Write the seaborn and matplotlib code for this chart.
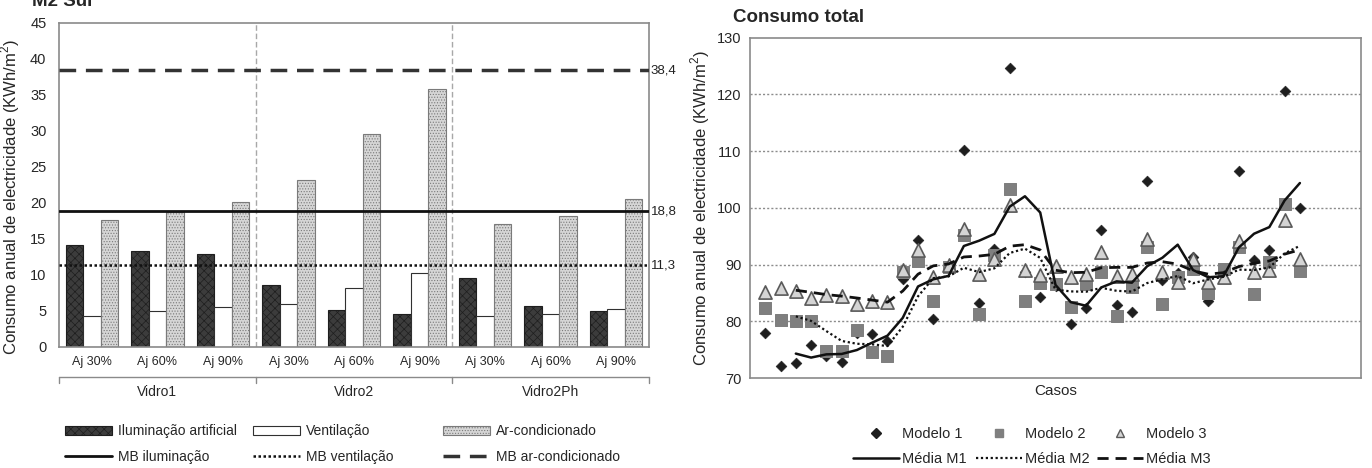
"""
Consumo anual de electricidade: barras por solução (M2 Sul) e dispersão do consumo total.
"""

import numpy as np
import pandas as pd
import seaborn as sns
from matplotlib import pyplot as plt
from matplotlib import font_manager
from matplotlib.lines import Line2D
from matplotlib.patches import Patch
from matplotlib.ticker import FixedLocator, NullFormatter
from matplotlib.transforms import blended_transform_factory

# ---- dados do gráfico de barras (M2 Sul) ----
GRUPOS = ["Vidro1", "Vidro2", "Vidro2Ph"]
AJUSTES = ["Aj 30%", "Aj 60%", "Aj 90%"]
TIPOS = ["Iluminação artificial", "Ventilação", "Ar-condicionado"]
ILUMINACAO = [14.1, 13.3, 12.9, 8.6, 5.1, 4.5, 9.5, 5.7, 4.9]
VENTILACAO = [4.3, 5.0, 5.5, 5.9, 8.1, 10.3, 4.3, 4.5, 5.3]
AR_CONDICIONADO = [17.6, 18.7, 20.1, 23.1, 29.5, 35.8, 17.0, 18.1, 20.5]
MB_NOMES = ["MB iluminação", "MB ventilação", "MB ar-condicionado"]
MB_VALORES = [18.8, 11.3, 38.4]
MB_ROTULOS = ["18,8", "11,3", "38,4"]

# ---- dados do gráfico de dispersão (consumo total) ----
MODELOS = ["Modelo 1", "Modelo 2", "Modelo 3"]
MEDIAS = ["Média M1", "Média M2", "Média M3"]
MODELO_1 = [78.0, 72.2, 72.7, 75.9, 73.9, 72.9, 78.0, 77.8, 76.6, 87.4,
            94.4, 80.4, 89.2, 110.2, 83.2, 92.8, 124.6, 88.7, 84.2, 86.3,
            79.6, 82.3, 96.0, 82.8, 81.6, 104.7, 87.3, 88.5, 91.3, 83.5,
            89.0, 106.5, 90.8, 92.5, 120.6, 100.0]
MODELO_2 = [82.4, 80.2, 80.0, 80.0, 74.8, 74.8, 78.5, 74.5, 73.9, 88.7,
            90.6, 83.5, 89.6, 95.2, 81.2, 91.6, 103.3, 83.5, 86.7, 86.5,
            82.6, 86.5, 88.6, 81.0, 86.1, 93.1, 83.0, 87.8, 89.3, 85.0,
            89.2, 93.1, 84.8, 90.5, 100.6, 88.8]
MODELO_3 = [85.2, 85.9, 85.3, 84.1, 84.7, 84.5, 83.1, 83.6, 83.4, 89.0,
            92.5, 87.8, 90.0, 96.2, 88.3, 90.9, 100.5, 89.1, 88.1, 89.8,
            87.8, 88.3, 92.2, 88.0, 88.3, 94.5, 88.7, 87.0, 91.0, 86.9,
            87.8, 94.2, 88.7, 89.0, 97.8, 91.0]
PERIODO_MEDIA = 3

W_PX, H_PX = 1372, 468
CINZA_EIXO = "#8a8a8a"


def fonte_disponivel(nome: str, alternativa: str) -> str:
	"""Devolve o nome da fonte se estiver instalada, senão a alternativa."""
	try:
		font_manager.findfont(nome, fallback_to_default=False)
		return nome
	except ValueError:
		return alternativa


def caixa(x0, y0, x1, y1):
	"""Converte uma caixa em píxeis (origem no topo) para fracção da figura."""
	return [x0 / W_PX, 1 - y1 / H_PX, (x1 - x0) / W_PX, (y1 - y0) / H_PX]


def desenhar_barras(fig, ax, fonte_estreita):
	categorias = [f"{g} {a}" for g in GRUPOS for a in AJUSTES]
	registros = []
	for tipo, valores in zip(TIPOS, [ILUMINACAO, VENTILACAO, AR_CONDICIONADO]):
		for cat, v in zip(categorias, valores):
			registros.append({"Categoria": cat, "Tipo": tipo, "Consumo": v})
	df = pd.DataFrame(registros)

	cores = ["#3c3c3c", "#ffffff", "#d6d6d6"]
	bordas = ["#1e1e1e", "#303030", "#7a7a7a"]
	hachuras = ["xxxx", "", "......"]
	sns.barplot(data=df, x="Categoria", y="Consumo", hue="Tipo", order=categorias,
				hue_order=TIPOS, palette=dict(zip(TIPOS, cores)), saturation=1,
				width=0.8, linewidth=0.8, legend=False, ax=ax)
	for cont, borda, hachura in zip(ax.containers, bordas, hachuras):
		for barra in cont:
			barra.set_edgecolor(borda)
			barra.set_hatch(hachura)

	# linhas de referência (modelo base)
	estilos = [dict(color="#111111", lw=2.0, linestyle="-"),
			   dict(color="#111111", lw=1.8, linestyle=(0, (1, 1))),
			   dict(color="#333333", lw=2.5, linestyle=(0, (4.8, 2.8)))]
	trans_y = blended_transform_factory(ax.transAxes, ax.transData)
	for valor, rotulo, estilo in zip(MB_VALORES, MB_ROTULOS, estilos):
		ax.axhline(valor, zorder=3, **estilo)
		ax.text(1.003, valor, rotulo, transform=trans_y, ha="left", va="center",
				fontsize=9.5, family=[fonte_estreita, "DejaVu Sans"], color="#222222")

	# separadores dos grupos
	for x in [2.5, 5.5]:
		ax.axvline(x, color="#a8a8a8", lw=1, linestyle=(0, (4, 2)), zorder=1)

	ax.set_xlim(-0.5, 8.5)
	ax.set_ylim(0, 45)
	ax.set_yticks(range(0, 46, 5))
	ax.xaxis.set_major_locator(FixedLocator(np.arange(-0.5, 9, 1)))
	ax.xaxis.set_major_formatter(NullFormatter())
	ax.set_xticks(range(9), labels=AJUSTES * 3, minor=True)
	for rot in ax.get_xticklabels(minor=True):
		rot.set_family([fonte_estreita, "DejaVu Sans"])
	ax.tick_params(axis="x", which="minor", length=0, pad=6.5, labelsize=9)
	ax.tick_params(axis="x", which="major", length=4, color=CINZA_EIXO)
	ax.tick_params(axis="y", length=4, pad=5, labelsize=10.5, color=CINZA_EIXO)
	ax.set_xlabel("")
	ax.set_ylabel("Consumo anual de electricidade (KWh/m$^2$)", fontsize=12)
	ax.yaxis.set_label_coords(-0.062, 0.462)
	for lado in ax.spines.values():
		lado.set_color(CINZA_EIXO)
		lado.set_linewidth(1.2)

	# segundo nível do eixo (grupos)
	trans_x = blended_transform_factory(ax.transData, ax.transAxes)
	y_traco = -(377 - 346.7) / 324
	ax.plot([-0.5, 8.5], [y_traco, y_traco], transform=trans_x, clip_on=False,
			color=CINZA_EIXO, lw=1)
	for x in [-0.5, 2.5, 5.5, 8.5]:
		ax.plot([x, x], [y_traco, y_traco - 0.018], transform=trans_x, clip_on=False,
				color=CINZA_EIXO, lw=1)
	for i, grupo in enumerate(GRUPOS):
		ax.text(1 + 3 * i, -(392 - 346.7) / 324, grupo, transform=trans_x, ha="center",
				va="center", fontsize=10, family=[fonte_estreita, "DejaVu Sans"])

	# legenda em três colunas
	alças = [
		(Patch(facecolor=cores[0], edgecolor=bordas[0], hatch=hachuras[0], lw=0.8),
		 Line2D([], [], **estilos[0])),
		(Patch(facecolor=cores[1], edgecolor=bordas[1], lw=0.8),
		 Line2D([], [], **estilos[1])),
		(Patch(facecolor=cores[2], edgecolor=bordas[2], hatch=hachuras[2], lw=0.8),
		 Line2D([], [], **estilos[2])),
	]
	for x_px, (patch, linha), tipo, nome in zip([65, 253, 443], alças, TIPOS, MB_NOMES):
		fig.legend(handles=[patch, linha], labels=[tipo, nome], loc="center left",
				   bbox_to_anchor=(x_px / W_PX, 1 - 444 / H_PX), frameon=False,
				   borderpad=0, borderaxespad=0, handlelength=3.4, handletextpad=0.4,
				   labelspacing=0.8, prop={"family": [fonte_estreita, "DejaVu Sans"], "size": 10})


def desenhar_dispersao(fig, ax):
	casos = np.arange(1, len(MODELO_1) + 1)
	series = [MODELO_1, MODELO_2, MODELO_3]

	for y in [80, 90, 100, 110, 120]:
		ax.axhline(y, color="#8c8c8c", lw=1, linestyle=(0, (1.5, 1.5)), zorder=0)

	marcadores = [dict(marker="D", color="#1e1e1e", edgecolor="#1e1e1e", s=30),
				  dict(marker="s", color="#7f7f7f", edgecolor="#7f7f7f", s=80),
				  dict(marker="^", color="#d4d4d4", edgecolor="#5a5a5a", s=90, linewidth=1.2)]
	for valores, estilo in zip(series, marcadores):
		sns.scatterplot(x=casos, y=valores, ax=ax, zorder=2, legend=False, **estilo)

	estilos = [dict(color="#111111", lw=1.8, linestyle="-"),
			   dict(color="#111111", lw=1.6, linestyle=(0, (1, 1.2))),
			   dict(color="#111111", lw=2.0, linestyle=(0, (4, 2.5)))]
	for valores, estilo in zip(series, estilos):
		media = pd.Series(valores).rolling(PERIODO_MEDIA).mean()
		sns.lineplot(x=casos, y=media.values, ax=ax, zorder=3, **estilo)

	ax.set_xlim(0, 40)
	ax.set_ylim(70, 130)
	ax.set_yticks(range(70, 131, 10))
	ax.set_xticks([])
	ax.tick_params(axis="y", length=4, pad=2, labelsize=10.5, color=CINZA_EIXO)
	ax.set_xlabel("Casos", fontsize=11, labelpad=4)
	ax.set_ylabel("Consumo anual de electricidade (KWh/m$^2$)", fontsize=12)
	ax.yaxis.set_label_coords(-0.062, 0.5)
	for lado in ax.spines.values():
		lado.set_color(CINZA_EIXO)
		lado.set_linewidth(1.2)

	alças = [
		(Line2D([], [], marker="D", linestyle="none", color="#1e1e1e", markersize=5),
		 Line2D([], [], **estilos[0])),
		(Line2D([], [], marker="s", linestyle="none", color="#7f7f7f", markersize=6),
		 Line2D([], [], **estilos[1])),
		(Line2D([], [], marker="^", linestyle="none", color="#d4d4d4",
				markeredgecolor="#5a5a5a", markersize=6),
		 Line2D([], [], **estilos[2])),
	]
	for x_px, (marca, linha), modelo, media in zip([853, 976, 1097], alças, MODELOS, MEDIAS):
		fig.legend(handles=[marca, linha], labels=[modelo, media], loc="center left",
				   bbox_to_anchor=(x_px / W_PX, 1 - 446.5 / H_PX), frameon=False,
				   borderpad=0, borderaxespad=0, handlelength=3.15, handletextpad=0.2,
				   labelspacing=0.75, fontsize=10.5)


def main():
	sns.set_style("white")
	plt.rcParams["font.family"] = ["Liberation Sans", "DejaVu Sans"]
	plt.rcParams["hatch.linewidth"] = 0.5
	plt.rcParams["mathtext.fontset"] = "custom"
	plt.rcParams["mathtext.rm"] = "Liberation Sans"
	fonte_estreita = fonte_disponivel("Liberation Sans Narrow", "Liberation Sans")

	fig = plt.figure(figsize=(W_PX / 100, H_PX / 100), dpi=100)
	ax_barras = fig.add_axes(caixa(59, 22.7, 649, 346.7))
	ax_total = fig.add_axes(caixa(750, 37.6, 1361, 378))

	desenhar_barras(fig, ax_barras, fonte_estreita)
	desenhar_dispersao(fig, ax_total)

	# o título da esquerda aparece cortado no topo, como na figura original
	fig.text(32 / W_PX, 1 - 6 / H_PX, "M2 Sul", fontsize=13.5, fontweight="bold",
			 ha="left", va="baseline")
	fig.text(733 / W_PX, 1 - 22 / H_PX, "Consumo total", fontsize=13.5, fontweight="bold",
			 ha="left", va="baseline")

	fig.savefig("out.png", dpi=100)


if __name__ == "__main__":
	main()
